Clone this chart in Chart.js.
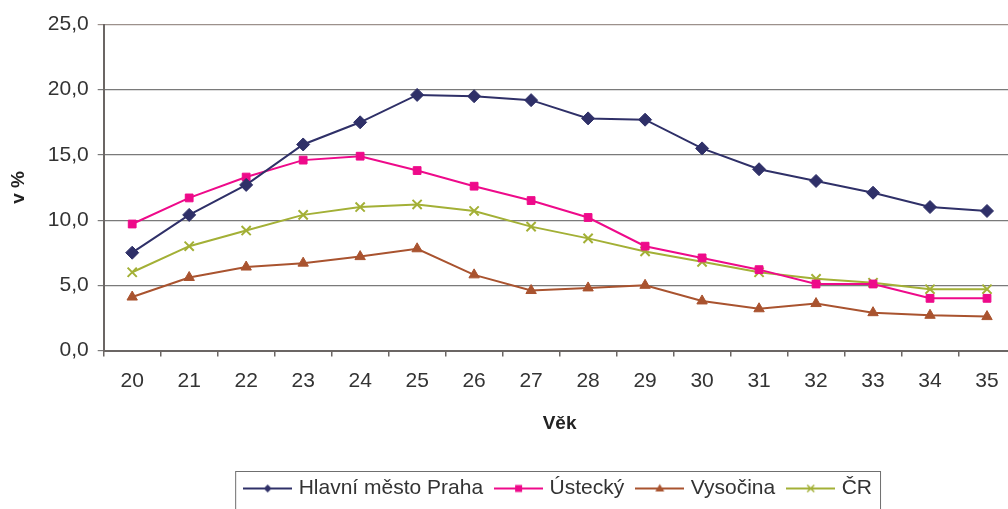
<!DOCTYPE html>
<html>
<head>
<meta charset="utf-8">
<script src="https://cdn.jsdelivr.net/npm/chart.js@4/dist/chart.umd.min.js"></script>
<style>
html, body { margin: 0; padding: 0; background: #fff; overflow: hidden; }
#wrap { width: 1024px; height: 509px; }
canvas { display: block; }
</style>
</head>
<body>
<div id="wrap"><canvas id="c" width="1024" height="509"></canvas></div>
<script>
const ages = ['20','21','22','23','24','25','26','27','28','29','30','31','32','33','34','35'];
const seriesNames = ['Hlavní město Praha', 'Ústecký', 'Vysočina', 'ČR'];
const praha    = [7.5, 10.4, 12.7, 15.8, 17.5, 19.6, 19.5, 19.2, 17.8, 17.7, 15.5, 13.9, 13.0, 12.1, 11.0, 10.7];
const ustecky  = [9.7, 11.7, 13.3, 14.6, 14.9, 13.8, 12.6, 11.5, 10.2, 8.0, 7.1, 6.2, 5.1, 5.1, 4.0, 4.0];
const vysocina = [4.1, 5.6, 6.4, 6.7, 7.2, 7.8, 5.8, 4.6, 4.8, 5.0, 3.8, 3.2, 3.6, 2.9, 2.7, 2.6];
const cr       = [6.0, 8.0, 9.2, 10.4, 11.0, 11.2, 10.7, 9.5, 8.6, 7.6, 6.8, 6.0, 5.5, 5.2, 4.7, 4.7];
const yTicks = [0, 5, 10, 15, 20, 25];

const colors = ['#2F3068', '#EE0A8A', '#A9532F', '#A3B036'];
const styles = ['rectRot', 'rect', 'triangle', 'crossRot'];
const radii  = [6.5, 5.5, 6, 6.5];

function legendSymbol(color, style) {
  const c = document.createElement('canvas');
  c.width = 49; c.height = 14;
  const g = c.getContext('2d');
  g.strokeStyle = color; g.fillStyle = color; g.lineWidth = 2;
  g.beginPath(); g.moveTo(0, 7); g.lineTo(49, 7); g.stroke();
  const x = 24.5, y = 7;
  g.beginPath();
  if (style === 'rectRot') {
    g.moveTo(x - 4, y); g.lineTo(x, y - 4); g.lineTo(x + 4, y); g.lineTo(x, y + 4); g.closePath(); g.fill();
  } else if (style === 'rect') {
    g.fillRect(x - 3.5, y - 3.5, 7, 7);
  } else if (style === 'triangle') {
    g.moveTo(x, y - 4.5); g.lineTo(x + 4.5, y + 3); g.lineTo(x - 4.5, y + 3); g.closePath(); g.fill();
  } else {
    g.lineWidth = 1.5;
    g.moveTo(x - 3.5, y - 3.5); g.lineTo(x + 3.5, y + 3.5);
    g.moveTo(x + 3.5, y - 3.5); g.lineTo(x - 3.5, y + 3.5); g.stroke();
  }
  return c;
}
const symbols = colors.map((c, i) => legendSymbol(c, styles[i]));

const allData = [praha, ustecky, vysocina, cr];
const datasets = allData.map((d, i) => ({
  label: seriesNames[i],
  data: d,
  borderColor: colors[i],
  backgroundColor: colors[i],
  borderWidth: 2,
  pointStyle: styles[i],
  pointRadius: radii[i],
  pointHoverRadius: radii[i],
  pointBorderWidth: styles[i] === 'crossRot' ? 2 : 1,
  tension: 0
}));

const legendBorder = {
  id: 'legendBorder',
  afterDraw(chart) {
    const lg = chart.legend;
    if (!lg || !lg.legendHitBoxes || !lg.legendHitBoxes.length) return;
    const hb = lg.legendHitBoxes;
    const left = Math.min(...hb.map(h => h.left)) - 11.5;
    const right = Math.max(...hb.map(h => h.left + h.width)) + 8.5;
    const top = lg.top + 8.5;
    const ctx = chart.ctx;
    ctx.save();
    ctx.strokeStyle = '#6f6f6f';
    ctx.lineWidth = 1;
    ctx.strokeRect(left, top, right - left, chart.height + 10 - top);
    ctx.restore();
  }
};

new Chart(document.getElementById('c'), {
  type: 'line',
  data: { labels: ages, datasets },
  plugins: [legendBorder],
  options: {
    responsive: false,
    animation: false,
    devicePixelRatio: 1,
    layout: { padding: { left: 0, right: 2, top: 24.5, bottom: 0 } },
    plugins: {
      tooltip: { enabled: false },
      legend: {
        position: 'bottom',
        fullSize: false,
        labels: {
          font: { family: 'Liberation Sans, Arial, sans-serif', size: 21 },
          color: '#333333',
          usePointStyle: true,
          pointStyleWidth: 41,
          padding: 15,
          generateLabels(chart) {
            return chart.data.datasets.map((ds, i) => ({
              text: ds.label,
              pointStyle: symbols[i],
              fillStyle: ds.borderColor,
              strokeStyle: ds.borderColor,
              fontColor: '#333333',
              lineWidth: 0,
              hidden: false,
              datasetIndex: i
            }));
          }
        }
      }
    },
    scales: {
      x: {
        offset: true,
        grid: { display: true, drawOnChartArea: false, drawTicks: true, tickLength: 6, offset: true, color: '#6b6664', lineWidth: 1.5 },
        border: { display: true, color: '#6b6664', width: 2 },
        ticks: { font: { family: 'Liberation Sans, Arial, sans-serif', size: 21 }, color: '#333333', padding: 12, maxRotation: 0, autoSkip: false },
        title: { display: true, text: 'Věk', font: { family: 'Liberation Sans, Arial, sans-serif', size: 19, weight: 'bold' }, color: '#222222', padding: { top: 0, bottom: 28 } },
        afterFit(scale) { scale.height = 112.5; }
      },
      y: {
        min: 0, max: 25,
        afterBuildTicks(scale) { scale.ticks = yTicks.map(v => ({ value: v })); },
        grid: {
          drawTicks: true, tickLength: 6,
          color: (c) => (c.tick && c.tick.value === 25) ? '#9c918c' : '#7a7a7a',
          lineWidth: 1.2
        },
        border: { display: true, color: '#6b6664', width: 2 },
        ticks: {
          font: { family: 'Liberation Sans, Arial, sans-serif', size: 21 }, color: '#333333', padding: 9,
          callback: (v) => Number(v).toFixed(1).replace('.', ',')
        },
        title: { display: true, text: 'v %', font: { family: 'Liberation Sans, Arial, sans-serif', size: 19, weight: 'bold' }, color: '#222222', padding: { top: 7, bottom: 0 } },
        afterFit(scale) { scale.width = 103.7; }
      }
    }
  }
});
</script>
</body>
</html>
